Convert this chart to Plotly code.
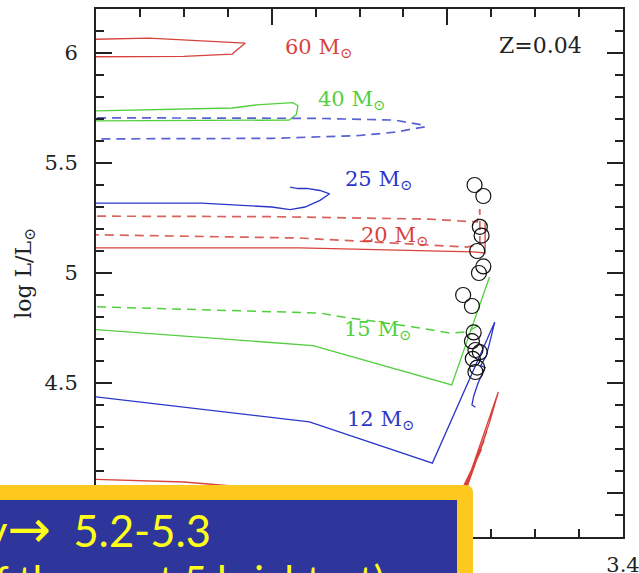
import plotly.graph_objects as go

RED = "#d8423c"
RED_D = "#d9625c"
GREEN = "#52cf3e"
BLUE = "#2b36c8"
BLUE_D = "#5962d2"
INK = "#222222"
SERIF = "DejaVu Serif"

# ---- evolutionary tracks: log Teff, log L/Lsun ----
m60_x = [4.05, 3.94, 3.83, 3.845, 3.90, 4.05]
m60_y = [6.058, 6.068, 6.045, 5.995, 5.985, 5.982]

m40_x = [4.05, 3.845, 3.817, 3.776, 3.770, 3.772, 3.78, 4.05]
m40_y = [5.733, 5.750, 5.764, 5.774, 5.760, 5.720, 5.695, 5.691]

m40d_x = [4.05, 3.75, 3.66, 3.627, 3.625, 3.66, 3.70, 3.80, 4.05]
m40d_y = [5.706, 5.703, 5.695, 5.672, 5.665, 5.640, 5.625, 5.612, 5.609]

m25_x = [4.05, 3.88, 3.80, 3.779, 3.762, 3.745, 3.734, 3.745, 3.76, 3.77, 3.779]
m25_y = [5.318, 5.318, 5.300, 5.288, 5.300, 5.330, 5.360, 5.375, 5.385, 5.384, 5.390]

m20d_x = [4.05, 3.80, 3.62, 3.566, 3.563, 3.563, 3.578, 3.768, 4.05]
m20d_y = [5.259, 5.256, 5.245, 5.232, 5.290, 5.130, 5.118, 5.159, 5.177]

m20_x = [4.05, 3.768, 3.571, 3.557, 3.557]
m20_y = [5.114, 5.114, 5.096, 5.091, 5.230]

m15d_x = [4.05, 3.745, 3.719, 3.639, 3.597, 3.578, 3.565]
m15d_y = [4.852, 4.818, 4.800, 4.755, 4.727, 4.732, 4.760]

m15_x = [4.05, 3.753, 3.595, 3.552]
m15_y = [4.757, 4.670, 4.491, 4.982]

m12_x = [4.05, 3.757, 3.617, 3.546, 3.552, 3.556, 3.562, 3.557, 3.565, 3.570, 3.572, 3.568]
m12_y = [4.460, 4.323, 4.136, 4.777, 4.680, 4.620, 4.580, 4.570, 4.500, 4.440, 4.400, 4.390]

m9_x = [4.05, 3.90, 3.75, 3.66, 3.60, 3.585, 3.542, 3.552, 3.580, 3.555, 3.583, 3.558, 3.586, 3.561, 3.589]
m9_y = [4.068, 4.050, 4.000, 3.900, 3.800, 3.960, 4.459, 4.320, 4.000, 4.280, 3.990, 4.240, 3.980, 4.200, 3.970]

# ---- red supergiants ----
rsg_x = [3.569, 3.559, 3.563, 3.561, 3.566, 3.559, 3.564, 3.582,
         3.572, 3.570, 3.572, 3.568, 3.563, 3.571, 3.566, 3.568]
rsg_y = [5.40, 5.35, 5.21, 5.17, 5.10, 5.03, 5.00, 4.90,
         4.85, 4.73, 4.69, 4.65, 4.64, 4.61, 4.57, 4.55]

# ---- track labels ----
lab_text = ["60 M<sub>⊙</sub>", "40 M<sub>⊙</sub>", "25 M<sub>⊙</sub>",
            "20 M<sub>⊙</sub>", "15 M<sub>⊙</sub>", "12 M<sub>⊙</sub>"]
lab_x = [3.747, 3.709, 3.678, 3.660, 3.679, 3.676]
lab_y = [6.023, 5.786, 5.423, 5.168, 4.741, 4.332]
lab_col = [RED, GREEN, BLUE, RED, GREEN, BLUE]

# ---- axis ticks (labels under the note box are left blank) ----
x_ticks = [3.4, 3.6, 3.8, 4.0]
x_ticktext = ["3.4", "", "", ""]
y_ticks = [4.0, 4.5, 5.0, 5.5, 6.0]
y_ticktext = ["", "4.5", "5", "5.5", "6"]

fig = go.Figure()


def track(x, y, color, dash="solid", width=1.3):
    fig.add_trace(go.Scatter(x=x, y=y, mode="lines",
                             line=dict(color=color, width=width, dash=dash),
                             hoverinfo="skip"))


track(m60_x, m60_y, RED)
track(m40_x, m40_y, GREEN)
track(m40d_x, m40d_y, BLUE_D, dash="9px,6px", width=1.7)
track(m25_x, m25_y, BLUE)
track(m20d_x, m20d_y, RED_D, dash="9px,6px", width=1.7)
track(m20_x, m20_y, RED)
track(m15d_x, m15d_y, GREEN, dash="9px,6px", width=1.5)
track(m15_x, m15_y, GREEN)
track(m12_x, m12_y, BLUE)
track(m9_x, m9_y, RED)

fig.add_trace(go.Scatter(x=rsg_x, y=rsg_y, mode="markers",
                         marker=dict(symbol="circle-open", size=15,
                                     color="#111111", line=dict(width=1.2)),
                         hoverinfo="skip"))

for t, x, y, c in zip(lab_text, lab_x, lab_y, lab_col):
    fig.add_annotation(x=x, y=y, text=t, showarrow=False,
                       font=dict(family=SERIF, size=21, color=c))

fig.add_annotation(x=3.494, y=6.036, text="Z=0.04", showarrow=False,
                   font=dict(family=SERIF, size=22, color=INK))

fig.add_annotation(xref="paper", yref="paper", x=-0.135, y=0.5,
                   xanchor="center", yanchor="middle",
                   text="log L/L<sub>⊙</sub>", textangle=-90, showarrow=False,
                   font=dict(family=SERIF, size=22, color=INK))

# ---- highlighted note box ----
fig.add_shape(type="path", xref="paper", yref="paper", layer="above",
              path="M -0.3,-0.2 L -0.3,0.0985 L 0.700,0.0985 "
                   "Q 0.7154,0.0985 0.7154,0.083 L 0.7154,-0.2 Z",
              fillcolor="#fdc91f", line=dict(width=0))
fig.add_shape(type="rect", xref="paper", yref="paper", layer="above",
              x0=-0.3, x1=0.685, y0=-0.2, y1=0.0701,
              fillcolor="#2e359b", line=dict(width=0))
fig.add_annotation(xref="paper", yref="paper", x=0.222, y=0.0155,
                   xanchor="right", yanchor="middle", showarrow=False,
                   text="Upper limit of luminosity"
                        "<span style='font-family:DejaVu Sans;font-size:52px'>→</span>"
                        "&nbsp; 5.2-5.3",
                   font=dict(family="Lato", size=43.5, color="#ffff1a"))
fig.add_annotation(xref="paper", yref="paper", x=0.55, y=-0.081,
                   xanchor="right", yanchor="middle", showarrow=False,
                   text="(average of the most 5 brightest)",
                   font=dict(family="Lato", size=40, color="#ffff1a"))

axis_common = dict(showgrid=False, zeroline=False, showline=True,
                   automargin=False, ticklabeloverflow="allow",
                   linecolor=INK, linewidth=2, mirror="allticks",
                   ticks="inside", ticklen=16, tickwidth=1.5, tickcolor=INK,
                   tickfont=dict(family=SERIF, size=21, color=INK))

fig.update_xaxes(range=[4.0, 3.4], tickmode="array",
                 tickvals=x_ticks, ticktext=x_ticktext,
                 ticklabelstandoff=8,
                 minor=dict(ticks="inside", ticklen=8, dtick=0.05, tick0=3.4,
                            tickcolor=INK, tickwidth=1.5),
                 **axis_common)
fig.update_yaxes(range=[3.8, 6.2], tickmode="array",
                 tickvals=y_ticks, ticktext=y_ticktext,
                 ticklabelstandoff=12,
                 minor=dict(ticks="inside", ticklen=8, dtick=0.1, tick0=4.0,
                            tickcolor=INK, tickwidth=1.5),
                 **axis_common)

fig.update_layout(width=639, height=573, showlegend=False,
                  margin=dict(l=96, r=16, t=9, b=36),
                  paper_bgcolor="white", plot_bgcolor="white")

fig.write_html("out.html")
